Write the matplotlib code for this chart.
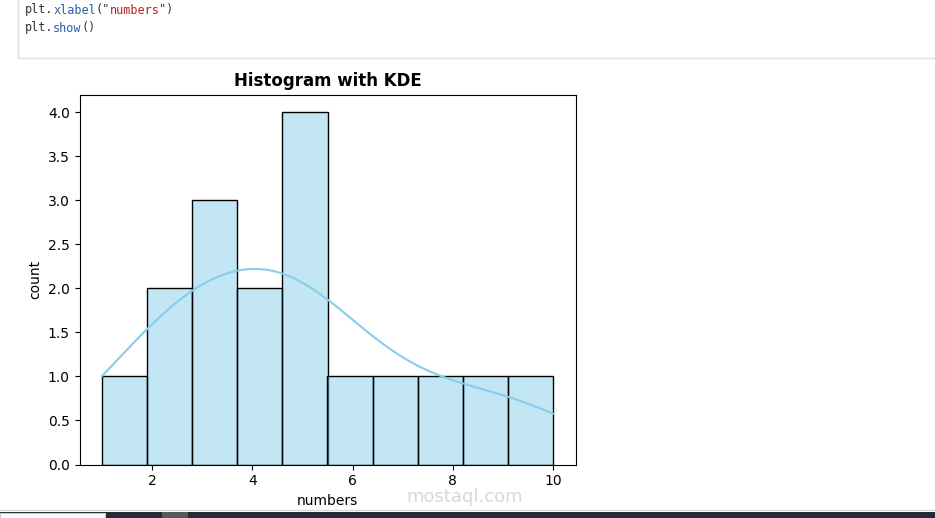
import matplotlib
matplotlib.use("Agg")
import matplotlib.pyplot as plt
import matplotlib.patches as patches
import seaborn as sns

# data (10 bins between 1 and 10)
numbers = [1, 2, 2, 3, 3, 3, 4, 4, 5, 5, 5, 5, 6, 7, 8, 9, 10]

# notebook code lines shown above the output
code_lines = [
    [("plt.", "#333333"), ("xlabel", "#2a5fa8"), ('("', "#333333"),
     ("numbers", "#ba2121"), ('")', "#333333")],
    [("plt.", "#333333"), ("show", "#2a5fa8"), ("()", "#333333")],
]

W, H = 935, 518
fig = plt.figure(figsize=(W / 100, H / 100), dpi=100)

# code cell box
fig.patches.append(patches.Rectangle((18 / W, 1 - 58 / H), 1, 70 / H,
                                     transform=fig.transFigure, facecolor="white",
                                     edgecolor="#e0e0e0", linewidth=1))
code_size = 8.45
char_w = 0.602 * code_size * 100 / 72  # monospace advance in pixels
for i, line in enumerate(code_lines):
    y = 10 + i * 18
    x = 25
    for txt, col in line:
        fig.text(x / W, 1 - y / H, txt, family="DejaVu Sans Mono",
                 fontsize=code_size, color=col, va="center", ha="left")
        x += len(txt) * char_w

# histogram with kde
ax = fig.add_axes([79.5 / W, 53.5 / H, 496 / W, 370 / H])
sns.histplot(numbers, bins=10, kde=True, color="skyblue", edgecolor="black", ax=ax)
ax.set_title("Histogram with KDE", fontweight="bold")
ax.set_xlabel("numbers")
ax.set_ylabel("count")

# watermark
fig.text(465 / W, 1 - 497 / H, "mostaql.com", fontsize=13, color="#cfcfcf",
         ha="center", va="center", alpha=0.8)

# bottom window strip
fig.patches.append(patches.Rectangle((0, 0), 1, 6 / H, transform=fig.transFigure,
                                     facecolor="#252b33", edgecolor="none"))
fig.patches.append(patches.Rectangle((0, 0), 105 / W, 5 / H, transform=fig.transFigure,
                                     facecolor="white", edgecolor="#cccccc", linewidth=0.8))
fig.patches.append(patches.Rectangle((162 / W, 0), 26 / W, 6 / H, transform=fig.transFigure,
                                     facecolor="#55585e", edgecolor="none"))
fig.lines.append(plt.Line2D([0, 1], [8 / H, 8 / H], transform=fig.transFigure,
                            color="#d8d8d8", linewidth=1))

fig.savefig("out.png", dpi=100)
